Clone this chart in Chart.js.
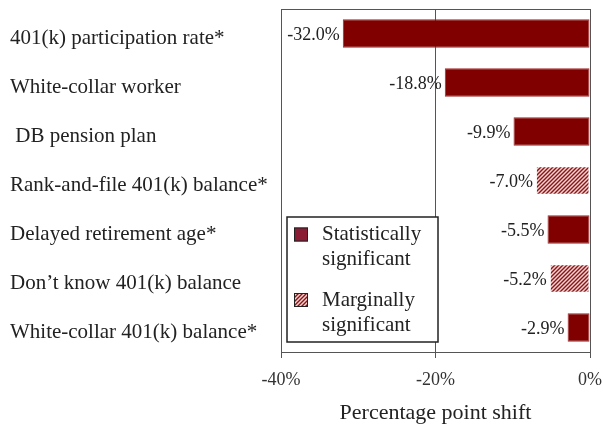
<!DOCTYPE html>
<html>
<head>
<meta charset="utf-8">
<script src="https://cdn.jsdelivr.net/npm/chart.js@4"></script>
<style>
  html, body { margin: 0; padding: 0; background: #fff; }
  #wrap { position: relative; width: 603px; height: 430px; }
</style>
</head>
<body>
<div id="wrap"><canvas id="c" width="603" height="430"></canvas></div>
<script>
const categories = [
  '401(k) participation rate*',
  'White-collar worker',
  ' DB pension plan',
  'Rank-and-file 401(k) balance*',
  'Delayed retirement age*',
  "Don\u2019t know 401(k) balance",
  'White-collar 401(k) balance*'
];
const values = [-32.0, -18.8, -9.9, -7.0, -5.5, -5.2, -2.9];
const significance = ['stat', 'stat', 'stat', 'marg', 'stat', 'marg', 'stat'];
const xTicks = [-40, -20, 0];
const legendItems = [
  { kind: 'stat', lines: ['Statistically', 'significant'] },
  { kind: 'marg', lines: ['Marginally', 'significant'] }
];

const FONT = "'Liberation Serif', 'Times New Roman', serif";
const DARK = '#800000';
const TEXT = '#222';

function makeHatch() {
  const s = 4;
  const pc = document.createElement('canvas');
  pc.width = s; pc.height = s;
  const g = pc.getContext('2d');
  g.fillStyle = '#f2d6d6';
  g.fillRect(0, 0, s, s);
  g.strokeStyle = '#8e1414';
  g.lineWidth = 1.4;
  g.beginPath();
  g.moveTo(0, s); g.lineTo(s, 0);
  g.moveTo(-1, 1); g.lineTo(1, -1);
  g.moveTo(s - 1, s + 1); g.lineTo(s + 1, s - 1);
  g.stroke();
  return document.getElementById('c').getContext('2d').createPattern(pc, 'repeat');
}
const hatch = makeHatch();

const fills = significance.map(s => s === 'stat' ? DARK : hatch);
const borders = significance.map(s => s === 'stat' ? '#a02a2a' : 'rgba(0,0,0,0)');

function zeroPad(scale) {
  scale.paddingLeft = 0; scale.paddingRight = 0;
  scale.paddingTop = 0; scale.paddingBottom = 0;
}

const extrasPlugin = {
  id: 'extras',
  afterDatasetsDraw(chart) {
    const ctx = chart.ctx;
    const meta = chart.getDatasetMeta(0);
    ctx.save();
    ctx.font = '18px ' + FONT;
    ctx.fillStyle = TEXT;
    ctx.textAlign = 'right';
    ctx.textBaseline = 'middle';
    meta.data.forEach((el, i) => {
      const v = chart.data.datasets[0].data[i];
      ctx.fillText(v.toFixed(1) + '%', el.x - 3, el.y + 2);
    });
    ctx.restore();
  },
  afterDraw(chart) {
    const ctx = chart.ctx;
    const a = chart.chartArea;
    ctx.save();
    // top border
    ctx.strokeStyle = '#555';
    ctx.lineWidth = 1;
    ctx.beginPath();
    ctx.moveTo(a.left, a.top + 0.5);
    ctx.lineTo(a.right, a.top + 0.5);
    ctx.stroke();
    // legend box
    const bx = 287, by = 217, bw = 151, bh = 125;
    ctx.fillStyle = '#fff';
    ctx.fillRect(bx, by, bw, bh);
    ctx.strokeStyle = '#222';
    ctx.lineWidth = 1.5;
    ctx.strokeRect(bx, by, bw, bh);
    const rows = [234.5, 300];
    ctx.font = '21px ' + FONT;
    ctx.textAlign = 'left';
    ctx.textBaseline = 'middle';
    legendItems.forEach((it, i) => {
      const cy = rows[i];
      ctx.fillStyle = it.kind === 'stat' ? '#8b1c34' : hatch;
      ctx.fillRect(294, cy - 7, 14, 14);
      ctx.strokeStyle = '#222';
      ctx.lineWidth = 1;
      ctx.strokeRect(294.5, cy - 6.5, 13, 13);
      ctx.fillStyle = TEXT;
      it.lines.forEach((ln, j) => ctx.fillText(ln, 322, cy + j * 25));
    });
    ctx.restore();
  }
};

new Chart(document.getElementById('c'), {
  type: 'bar',
  data: {
    labels: categories,
    datasets: [{
      data: values,
      backgroundColor: fills,
      borderColor: borders,
      borderWidth: 1,
      borderSkipped: false,
      barPercentage: 0.58,
      categoryPercentage: 1.0
    }]
  },
  options: {
    indexAxis: 'y',
    responsive: false,
    animation: false,
    events: [],
    layout: { padding: { left: 10, right: 13, top: 9, bottom: 0 } },
    plugins: { legend: { display: false }, tooltip: { enabled: false } },
    scales: {
      x: {
        min: -40, max: 0,
        afterBuildTicks(scale) { scale.ticks = xTicks.map(v => ({ value: v })); },
        afterFit(scale) { scale.height = 78; zeroPad(scale); },
        grid: { color: '#555', lineWidth: 1, drawTicks: true, tickLength: 6, tickColor: '#555' },
        border: { display: true, color: '#555', width: 1 },
        ticks: {
          padding: 11,
          color: '#333',
          font: { family: FONT, size: 18 },
          callback: v => v + '%'
        },
        title: {
          display: true,
          text: 'Percentage point shift',
          color: TEXT,
          font: { family: FONT, size: 22 },
          padding: { top: 0, bottom: 4 }
        }
      },
      y: {
        afterFit(scale) { scale.width = 271; zeroPad(scale); },
        grid: { display: false },
        border: { display: false },
        ticks: {
          crossAlign: 'far',
          labelOffset: 5,
          color: TEXT,
          font: { family: FONT, size: 21 }
        }
      }
    }
  },
  plugins: [extrasPlugin]
});
</script>
</body>
</html>
